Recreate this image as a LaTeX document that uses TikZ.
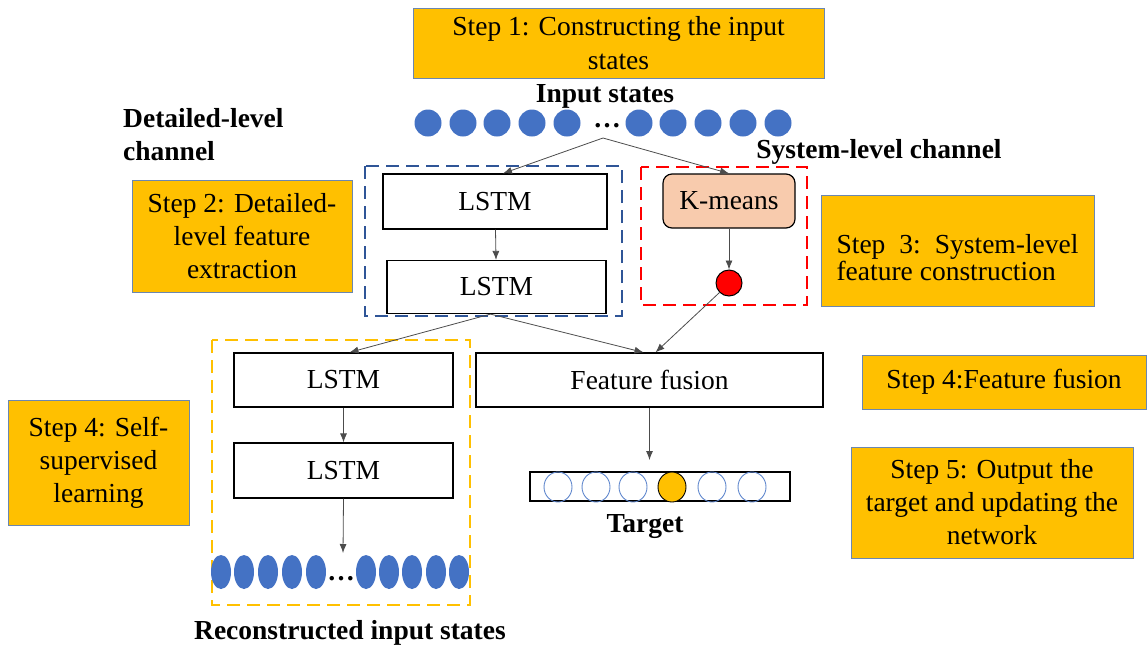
\documentclass[tikz,border=0pt]{standalone}
\usepackage{fontspec}
\setmainfont{Liberation Serif}
\usepackage{tikz}
\usetikzlibrary{arrows.meta, positioning, calc, shapes.geometric}

\definecolor{stepfill}{HTML}{FFC000}
\definecolor{stepline}{HTML}{6B87B0}
\definecolor{dotblue}{HTML}{4472C4}
\definecolor{dashblue}{HTML}{2F5597}
\definecolor{peach}{HTML}{F8CBAD}

\begin{document}
\begin{tikzpicture}[
    x=1pt, y=-1pt,
    txt/.style={font=\fontsize{27.5}{33}\selectfont},
    stepbox/.style={txt, draw=stepline, line width=1pt, fill=stepfill, inner sep=0pt, align=center},
    layer/.style={txt, draw, line width=1.2pt, inner sep=0pt},
    title/.style={font=\fontsize{27.5}{33}\selectfont\bfseries, inner sep=0pt},
    instate/.style={circle, fill=dotblue, minimum size=27pt, inner sep=0pt},
    recstate/.style={ellipse, fill=dotblue, minimum width=20pt, minimum height=34pt, inner sep=0pt},
    outstate/.style={ellipse, draw=dotblue!85, line width=0.9pt, minimum width=28pt, minimum height=30pt, inner sep=0pt},
    group/.style={line width=2.7pt, dash pattern=on 13pt off 7pt},
    arrow/.style={-{Latex[length=9pt,width=7pt]}, line width=0.8pt, draw=black!70}
]
\useasboundingbox (0,0) rectangle (1147,646);

% step boxes
\node[stepbox, minimum width=411pt, minimum height=70pt] (s1) at (618.5,43) {Step 1: Constructing the input\\[1pt]states};
\node[stepbox, minimum width=220pt, minimum height=112pt] (s2) at (242,236) {Step 2: Detailed-\\level feature\\extraction};
\node[stepbox, minimum width=273pt, minimum height=111pt, align=left] (s3) at (957.5,250.5) {\rule{0pt}{34pt}Step\hspace{14pt}3:\hspace{14pt}System-level\\[-6pt]feature construction};
\node[stepbox, minimum width=284pt, minimum height=54pt] (s4b) at (1004,382) {Step 4:Feature fusion};
\node[stepbox, minimum width=181pt, minimum height=125pt] (s4a) at (98.5,462.5) {Step 4: Self-\\supervised\\learning};
\node[stepbox, minimum width=282pt, minimum height=111pt] (s5) at (992,502.5) {Step 5: Output the\\target and updating the\\network};

% labels
\node[title] (intitle) at (605,96) {Input states};
\node[title, align=left, anchor=west] (dtitle) at (123,135) {Detailed-level\\channel};
\node[title] (stitle) at (879,152) {System-level channel};
\node[title] (ttitle) at (645,527) {Target};
\node[title] (rtitle) at (350,633) {Reconstructed input states};

% input states
\foreach \x in {428,463,497,532,567,639,673,708,743,778}
    \node[instate] (in\x) at (\x,123) {};
\node[title] (indots) at (607,126) {\dots};
\coordinate (fork) at (603,138);

% channel groups
\draw[group, draw=dashblue] (365,166) rectangle (622,316);
\draw[group, draw=red] (641,167) rectangle (807,305);
\draw[group, draw=stepfill] (212,340) rectangle (470,605);

% layers
\node[layer, minimum width=224pt, minimum height=55pt] (lstma) at (495,201.5) {LSTM};
\node[layer, minimum width=219pt, minimum height=53pt] (lstmb) at (496.5,287) {LSTM};
\node[layer, fill=peach, rounded corners=9pt, minimum width=132pt, minimum height=54pt] (kmeans) at (729,201) {K-means};
\node[circle, draw, fill=red, line width=1pt, minimum size=26pt, inner sep=0pt] (sysf) at (729,283) {};
\node[layer, minimum width=219pt, minimum height=54pt] (lstmc) at (343.5,380) {LSTM};
\node[layer, minimum width=219pt, minimum height=55pt] (lstmd) at (343.5,470.5) {LSTM};
\node[layer, minimum width=347pt, minimum height=54pt] (fusion) at (649.5,380) {Feature fusion};

% target
\node[draw, line width=1.2pt, minimum width=260pt, minimum height=29pt, inner sep=0pt] (tbar) at (660,486.5) {};
\foreach \x in {558,596,633,712,752}
    \node[outstate] (out\x) at (\x,487) {};
\node[outstate, draw=black, fill=stepfill] (out672) at (672,487) {};
\coordinate (tgtin) at (649.5,460);

% reconstructed states
\foreach \x in {221,244,268,292,316,366,389,412,436,459}
    \node[recstate] (rec\x) at (\x,572) {};
\node[title] (recdots) at (341,579) {\dots};
\coordinate (recin) at (343,553);

% connectors
\draw[arrow] (fork) -- ([xshift=8pt]lstma.north);
\draw[arrow] (fork) -- (kmeans.north);
\draw[arrow] (lstma) -- (lstmb);
\draw[arrow] (kmeans) -- (sysf);
\draw[arrow] ([xshift=-6pt]lstmb.south) -- ([xshift=6pt]lstmc.north);
\draw[arrow] ([xshift=-6pt]lstmb.south) -- ([xshift=-6pt]fusion.north);
\draw[arrow] (sysf.south west) -- ([xshift=6pt]fusion.north);
\draw[arrow] (lstmc) -- (lstmd);
\draw[arrow] (lstmd.south) -- (recin);
\draw[arrow] (fusion.south) -- (tgtin);
\end{tikzpicture}
\end{document}
